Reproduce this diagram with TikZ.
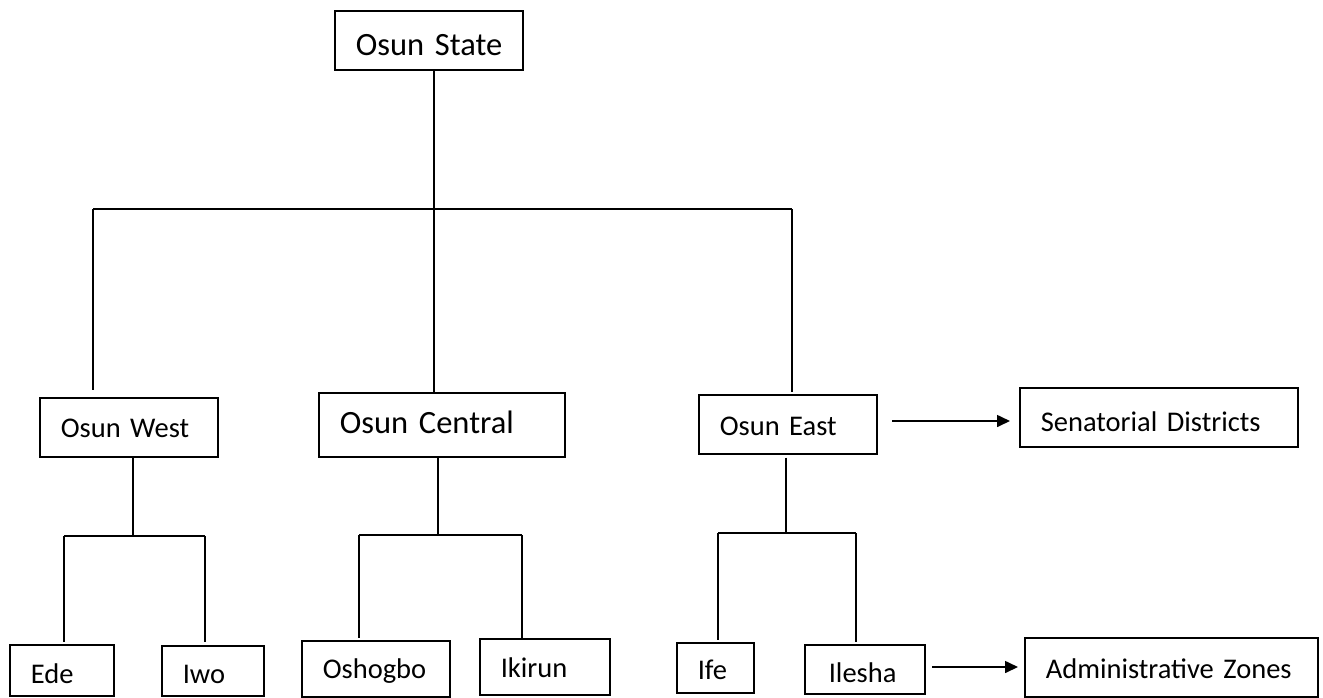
\documentclass[tikz,border=0pt]{standalone}
\usepackage{fontspec}
\setmainfont{Carlito}
\usetikzlibrary{arrows.meta}
\tikzset{
  bx/.style={draw, line width=1.6pt, inner xsep=21pt, inner ysep=0pt, anchor=north west,
    align=left, text depth=0pt, font=\fontsize{28.5}{30}\selectfont},
  bigfont/.style={font=\fontsize{32.5}{34}\selectfont},
  ln/.style={line width=1.6pt},
  arr/.style={line width=1.6pt, -{Triangle[length=13pt,width=12pt]}}
}
\begin{document}
\begin{tikzpicture}[x=1pt,y=-1pt]
\useasboundingbox (0,0) rectangle (1323,697);
% top
\node[bx,bigfont,text width=146pt,minimum height=59pt,text height=31pt] (state) at (334,10) {\mbox{Osun State}};
% senatorial
\node[bx,text width=136pt,minimum height=59pt,text height=21pt] (west) at (39,397) {\mbox{Osun West}};
\node[bx,bigfont,text width=204pt,minimum height=64pt,text height=18pt] (central) at (318,392) {\mbox{Osun Central}};
\node[bx,text width=136pt,minimum height=59pt,text height=23pt] (east) at (698,394) {\mbox{Osun East}};
\node[bx,text width=236pt,minimum height=59pt,text height=28pt] (sen) at (1019,387) {\mbox{Senatorial Districts}};
% zones
\node[bx,text width=62pt,minimum height=51pt,text height=27pt] (ede) at (9,644) {\mbox{Ede}};
\node[bx,text width=60pt,minimum height=50pt,text height=26pt] (iwo) at (161,645) {\mbox{Iwo}};
\node[bx,text width=106pt,minimum height=56pt,text height=20pt] (osh) at (301,640) {\mbox{Oshogbo}};
\node[bx,text width=88pt,minimum height=56pt,text height=22pt] (ikr) at (479,638) {\mbox{Ikirun}};
\node[bx,text width=35pt,minimum height=50pt,text height=24pt] (ife) at (676,642) {\mbox{Ife}};
\node[bx,inner xsep=22pt,text width=76pt,minimum height=49pt,text height=27pt] (ile) at (804,644) {\mbox{\hspace{2pt}Ilesha}};
\node[bx,text width=251pt,minimum height=59pt,text height=23pt] (adm) at (1024,637) {\mbox{Administrative Zones}};
% bus coordinates
\coordinate (b0) at (434,209);
\coordinate (bL) at (93,209);
\coordinate (bR) at (792,209);
\coordinate (w0) at (133,536);
\coordinate (wL) at (64,536);
\coordinate (wR) at (205,536);
\coordinate (c0) at (438,535);
\coordinate (cL) at (359,535);
\coordinate (cR) at (522,535);
\coordinate (e0) at (786,533);
\coordinate (eL) at (718,533);
\coordinate (eR) at (856,533);
% top tree
\draw[ln] (state.south -| b0) -- (b0);
\draw[ln] (bL) -- (bR);
\draw[ln] (bL) -- ([yshift=7pt]west.north -| bL);
\draw[ln] (b0) -- (central.north -| b0);
\draw[ln] (bR) -- ([yshift=2pt]east.north -| bR);
% west subtree
\draw[ln] (west.south -| w0) -- (w0);
\draw[ln] (wL) -- (wR);
\draw[ln] (wL) -- ([yshift=2pt]ede.north -| wL);
\draw[ln] (wR) -- ([yshift=3pt]iwo.north -| wR);
% central subtree
\draw[ln] (central.south -| c0) -- (c0);
\draw[ln] (cL) -- (cR);
\draw[ln] (cL) -- ([yshift=2pt]osh.north -| cL);
\draw[ln] (cR) -- (ikr.north -| cR);
% east subtree
\draw[ln] ([yshift=-3pt]east.south -| e0) -- (e0);
\draw[ln] (eL) -- (eR);
\draw[ln] (eL) -- ([yshift=2pt]ife.north -| eL);
\draw[ln] (eR) -- ([yshift=2pt]ile.north -| eR);
% arrows
\coordinate (a1) at (892,421);
\coordinate (a2) at (932,667);
\draw[arr] (a1) -- ([xshift=-9pt]sen.west |- a1);
\draw[arr] (a2) -- ([xshift=-6pt]adm.west |- a2);
\end{tikzpicture}
\end{document}
